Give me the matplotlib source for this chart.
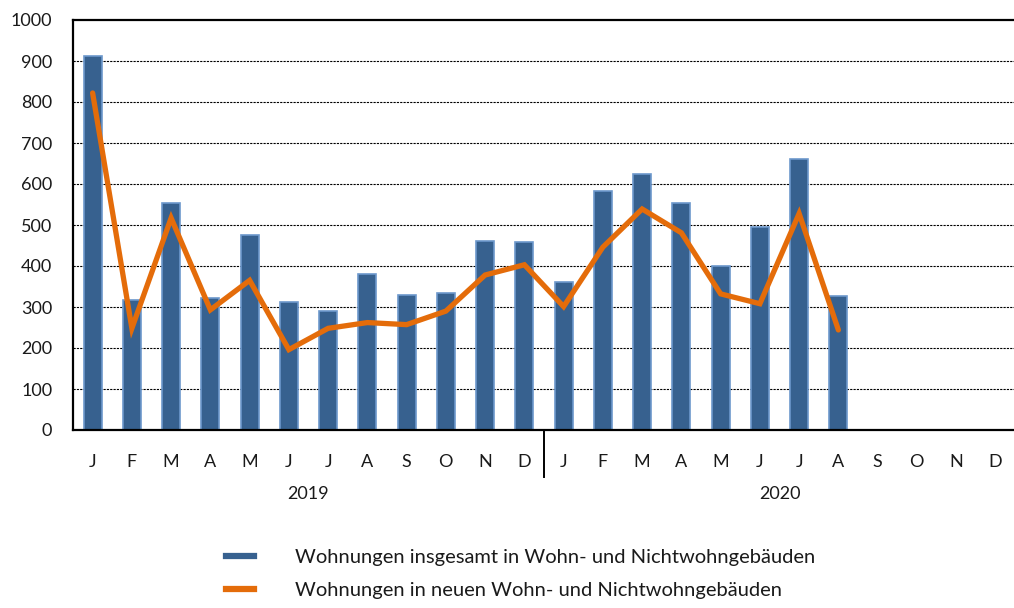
import matplotlib
matplotlib.use('Agg')
import matplotlib.pyplot as plt
from matplotlib.lines import Line2D
import numpy as np

# Monate 2019 und 2020
monate = ['J', 'F', 'M', 'A', 'M', 'J', 'J', 'A', 'S', 'O', 'N', 'D'] * 2
jahre = ['2019', '2020']

# Wohnungen insgesamt (Balken), bis August 2020
insgesamt = [912, 318, 553, 322, 475, 313, 290, 380, 330, 333, 460, 458,
             361, 583, 624, 553, 400, 494, 660, 328]
# Wohnungen in neuen Gebäuden (Linie)
neubau = [822, 248, 517, 293, 365, 196, 248, 262, 257, 290, 378, 403,
          301, 446, 539, 481, 332, 308, 528, 244]

label_bar = 'Wohnungen insgesamt in Wohn- und Nichtwohngebäuden'
label_line = 'Wohnungen in neuen Wohn- und Nichtwohngebäuden'

blau = '#37618f'
blau_rand = '#6d98cc'
orange = '#e46c0a'

plt.rcParams['font.family'] = ['Lato', 'DejaVu Sans']

fig = plt.figure(figsize=(10.14, 6.08), dpi=100)
ax = fig.add_axes([73 / 1014, 178 / 608, 942 / 1014, 410 / 608])

x = np.arange(len(monate))
x_daten = np.arange(len(insgesamt))

ax.bar(x_daten, insgesamt, width=0.46, color=blau, edgecolor=blau_rand,
       linewidth=1.2, zorder=2)
ax.plot(x_daten, neubau, color=orange, linewidth=3.8, solid_capstyle='round',
        solid_joinstyle='miter', zorder=3)

ax.set_xlim(-0.5, len(monate) - 0.5)
ax.set_ylim(0, 1000)
ax.set_yticks(np.arange(0, 1001, 100))
ax.set_xticks(x)
ax.set_xticklabels(monate)
ax.tick_params(axis='both', length=0, labelsize=13, colors='#1a1a1a')
ax.tick_params(axis='x', pad=17)
ax.tick_params(axis='y', pad=15)

# gestrichelte Gitterlinien
for y in range(100, 1000, 100):
    ax.axhline(y, color='black', linewidth=0.8, linestyle=(0, (2, 1)), zorder=1)

for s in ['left', 'bottom', 'top']:
    ax.spines[s].set_linewidth(1.6)
ax.spines['right'].set_visible(False)

# Trennlinie zwischen den Jahren
ax.plot([11.5, 11.5], [0, -0.115], transform=ax.get_xaxis_transform(),
        color='black', linewidth=1.4, clip_on=False)

# Jahresbeschriftung
ax.text(5.5, -0.155, jahre[0], transform=ax.get_xaxis_transform(),
        ha='center', va='center', fontsize=13, color='#1a1a1a')
ax.text(17.5, -0.155, jahre[1], transform=ax.get_xaxis_transform(),
        ha='center', va='center', fontsize=13, color='#1a1a1a')

handles = [Line2D([], [], color=blau, linewidth=4.5),
           Line2D([], [], color=orange, linewidth=4.5)]
fig.legend(handles, [label_bar, label_line], loc='center left',
           bbox_to_anchor=(208 / 1014, 1 - 574 / 608), frameon=False,
           fontsize=14.5, handlelength=1.4, handletextpad=2.0,
           labelspacing=0.75, labelcolor='#1a1a1a')

fig.savefig('out.png', dpi=100)
